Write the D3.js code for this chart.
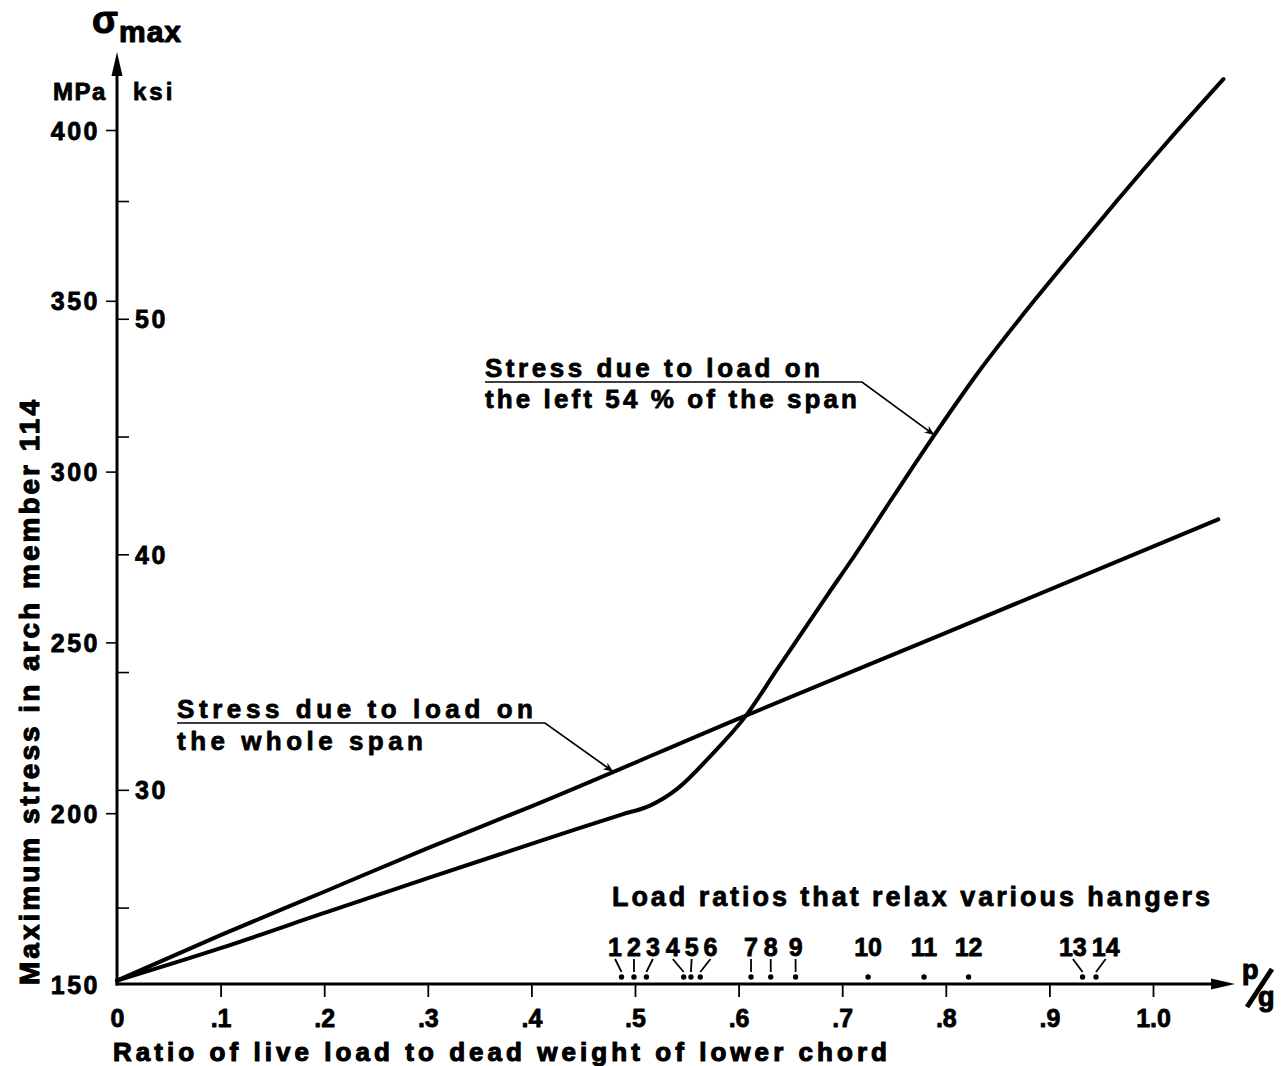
<!DOCTYPE html>
<html>
<head>
<meta charset="utf-8">
<script src="https://cdn.jsdelivr.net/npm/d3@7"></script>
<style>
  html, body { margin: 0; padding: 0; background: #fff; }
  svg { display: block; }
  text { fill: #000; stroke: #000; stroke-width: 0.8px; stroke-linejoin: round; }
  text.big { stroke-width: 1.1px; }
</style>
</head>
<body>
<svg id="chart" width="1287" height="1066"></svg>
<script>
// ---------------- DATA ----------------
const pTicks = [0, 0.1, 0.2, 0.3, 0.4, 0.5, 0.6, 0.7, 0.8, 0.9, 1.0];
const pTickLabels = ["0", ".1", ".2", ".3", ".4", ".5", ".6", ".7", ".8", ".9", "1.0"];
const mpaTicks = [150, 200, 250, 300, 350, 400];
const ksiTicks = [25, 30, 35, 40, 45, 50, 55];
const ksiLabelled = [30, 40, 50];

// Stress due to load on the whole span
const wholeP = [0, 0.1, 0.2, 0.3, 0.4, 0.6, 0.8, 1.063];
const wholeStress = [151, 164.3, 177, 189.8, 202, 227.7, 252.8, 286];

// Stress due to load on the left 54 % of the span
const leftP = [0, 0.1, 0.2, 0.3, 0.4, 0.447, 0.487, 0.515, 0.541, 0.573, 0.607, 0.637, 0.686, 0.711, 0.75, 0.793, 0.83, 0.872, 0.917, 0.965, 1.013, 1.068];
const leftStress = [151, 160.5, 170.8, 181, 191, 195.7, 199.6, 202.3, 207.2, 216.8, 228.5, 242, 264, 275, 293, 312.5, 328.5, 345, 361.7, 379.2, 396.2, 414.9];

// Load ratios that relax various hangers
const hangerIds = [1, 2, 3, 4, 5, 6, 7, 8, 9, 10, 11, 12, 13, 14];
const hangerRatios = [0.487, 0.499, 0.511, 0.547, 0.554, 0.563, 0.612, 0.631, 0.655, 0.725, 0.779, 0.822, 0.932, 0.945];

const MPA_PER_KSI = 6.894757;

// ---------------- LAYOUT ----------------
const svg = d3.select("#chart");
const TXT = "'Liberation Sans', Arial, sans-serif";
const NUM = "'Liberation Sans Narrow', 'Arial Narrow', 'Liberation Sans', sans-serif";

const x = d3.scaleLinear().domain([0, 1]).range([117, 1153]);
const y = d3.scaleLinear().domain([150, 400]).range([984, 130]);
const yKsi = d3.scaleLinear().domain([150 / MPA_PER_KSI, 400 / MPA_PER_KSI]).range([984, 130]);

// ---------------- AXES ----------------
// MPa axis (left)
const gL = svg.append("g").attr("transform", `translate(${x(0)},0)`)
  .call(d3.axisLeft(y).tickValues(mpaTicks).tickSize(11).tickPadding(6).tickFormat(d3.format("d")));
gL.select(".domain").remove();
gL.selectAll(".tick line").attr("stroke", "#000").attr("stroke-width", 1.6)
  .filter(d => d === 150).remove();
gL.selectAll(".tick text").attr("font-family", NUM).attr("font-weight", "bold")
  .attr("font-size", 25).attr("letter-spacing", 2.5).attr("fill", "#000").attr("dy", "0.36em");

// ksi axis (right of the spine)
const gR = svg.append("g").attr("transform", `translate(${x(0)},0)`)
  .call(d3.axisRight(yKsi).tickValues(ksiTicks).tickSize(12).tickPadding(6)
    .tickFormat(d => ksiLabelled.includes(d) ? d : ""));
gR.select(".domain").remove();
gR.selectAll(".tick line").attr("stroke", "#000").attr("stroke-width", 1.6);
gR.selectAll(".tick text").attr("font-family", NUM).attr("font-weight", "bold")
  .attr("font-size", 25).attr("letter-spacing", 2.5).attr("fill", "#000").attr("dy", "0.36em");

// p/g axis (bottom)
const gB = svg.append("g").attr("transform", `translate(0,${y(150)})`)
  .call(d3.axisBottom(x).tickValues(pTicks).tickSize(13).tickPadding(10)
    .tickFormat((d, i) => pTickLabels[i]));
gB.select(".domain").remove();
gB.selectAll(".tick line").attr("stroke", "#000").attr("stroke-width", 1.8)
  .filter(d => d === 0).remove();
gB.selectAll(".tick text").attr("font-family", NUM).attr("font-weight", "bold")
  .attr("font-size", 25).attr("fill", "#000").attr("dy", "0.8em");

// spines with arrowheads
const x0 = x(0), y0 = y(150);
svg.append("line").attr("x1", x0).attr("y1", y0 + 1.5).attr("x2", x0).attr("y2", 66)
  .attr("stroke", "#000").attr("stroke-width", 3);
svg.append("path").attr("d", `M${x0},52 L${x0 - 5.5},76 L${x0 + 5.5},76 Z`).attr("fill", "#000");
svg.append("line").attr("x1", x0 - 1.5).attr("y1", y0).attr("x2", 1218).attr("y2", y0)
  .attr("stroke", "#000").attr("stroke-width", 3);
svg.append("path").attr("d", `M1235,${y0} L1211,${y0 - 5.5} L1211,${y0 + 5.5} Z`).attr("fill", "#000");

// axis titles
svg.append("text").attr("class", "big").attr("x", 92).attr("y", 33)
  .attr("font-family", TXT).attr("font-weight", "bold").attr("font-size", 38).text("σ");
svg.append("text").attr("class", "big").attr("x", 119).attr("y", 42)
  .attr("font-family", TXT).attr("font-weight", "bold").attr("font-size", 30).attr("letter-spacing", 1).text("max");
svg.append("text").attr("x", 53).attr("y", 100)
  .attr("font-family", TXT).attr("font-weight", "bold").attr("font-size", 24).attr("letter-spacing", 1.5).text("MPa");
svg.append("text").attr("x", 133).attr("y", 100)
  .attr("font-family", TXT).attr("font-weight", "bold").attr("font-size", 24).attr("letter-spacing", 3).text("ksi");

svg.append("text").attr("class", "big").attr("transform", "translate(39,985) rotate(-90)")
  .attr("font-family", TXT).attr("font-weight", "bold").attr("font-size", 28)
  .attr("textLength", 585).attr("lengthAdjust", "spacing")
  .text("Maximum stress in arch member 114");

svg.append("text").attr("class", "big").attr("x", 113).attr("y", 1061)
  .attr("font-family", TXT).attr("font-weight", "bold").attr("font-size", 26)
  .attr("textLength", 774).attr("lengthAdjust", "spacing")
  .text("Ratio of live load to dead weight of lower chord");

// p/g
svg.append("text").attr("class", "big").attr("x", 1242).attr("y", 979)
  .attr("font-family", NUM).attr("font-weight", "bold").attr("font-size", 27).text("p");
svg.append("line").attr("x1", 1247).attr("y1", 1007).attr("x2", 1272).attr("y2", 969)
  .attr("stroke", "#000").attr("stroke-width", 5);
svg.append("text").attr("class", "big").attr("x", 1258).attr("y", 1006)
  .attr("font-family", NUM).attr("font-weight", "bold").attr("font-size", 27).text("g");

// ---------------- CURVES ----------------
const line = d3.line().x(d => x(d[0])).y(d => y(d[1])).curve(d3.curveMonotoneX);
const wholeData = wholeP.map((p, i) => [p, wholeStress[i]]);
const leftData = leftP.map((p, i) => [p, leftStress[i]]);

svg.append("path").datum(wholeData).attr("d", line)
  .attr("fill", "none").attr("stroke", "#000").attr("stroke-width", 4).attr("stroke-linecap", "round");
svg.append("path").datum(leftData).attr("d", line)
  .attr("fill", "none").attr("stroke", "#000").attr("stroke-width", 4).attr("stroke-linecap", "round");

// ---------------- ANNOTATIONS ----------------
function interp(ps, vs, p) {
  for (let i = 1; i < ps.length; i++) {
    if (p <= ps[i]) {
      const t = (p - ps[i - 1]) / (ps[i] - ps[i - 1]);
      return vs[i - 1] + t * (vs[i] - vs[i - 1]);
    }
  }
  return vs[vs.length - 1];
}

svg.append("defs").append("marker").attr("id", "arr")
  .attr("viewBox", "0 0 10 10").attr("refX", 10).attr("refY", 5)
  .attr("markerWidth", 10).attr("markerHeight", 10).attr("markerUnits", "userSpaceOnUse")
  .attr("orient", "auto")
  .append("path").attr("d", "M0,1 L10,5 L0,9 L3,5 Z").attr("fill", "#000");

function annotate(lines, tx, ty, lineGap, widths, underEndX, targetP, ps, vs) {
  const g = svg.append("g");
  lines.forEach((s, i) => {
    g.append("text").attr("x", tx).attr("y", ty + i * lineGap)
      .attr("font-family", TXT).attr("font-weight", "bold").attr("font-size", 26)
      .attr("textLength", widths[i]).attr("lengthAdjust", "spacing").text(s);
  });
  const uy = ty + 5;
  const px = x(targetP), py = y(interp(ps, vs, targetP));
  g.append("path").attr("d", `M${tx},${uy} L${underEndX},${uy} L${px},${py}`)
    .attr("fill", "none").attr("stroke", "#000").attr("stroke-width", 1.7)
    .attr("marker-end", "url(#arr)");
}

annotate(["Stress due to load on", "the left 54 % of the span"], 485, 377, 31, [335, 372],
  862, 0.789, leftP, leftStress);
annotate(["Stress due to load on", "the whole span"], 177, 718, 32, [356, 246],
  545, 0.479, wholeP, wholeStress);

// ---------------- HANGERS ----------------
svg.append("text").attr("x", 612).attr("y", 906)
  .attr("font-family", TXT).attr("font-weight", "bold").attr("font-size", 27)
  .attr("textLength", 598).attr("lengthAdjust", "spacing")
  .text("Load ratios that relax various hangers");

const hg = svg.append("g");
const labels = hangerIds.map((id, i) => {
  const t = hg.append("text").attr("y", 956).attr("text-anchor", "middle")
    .attr("font-family", NUM).attr("font-weight", "bold").attr("font-size", 25).text(id);
  return { id, dx: x(hangerRatios[i]), lx: x(hangerRatios[i]), w: t.node().getComputedTextLength(), t };
});
// spread overlapping labels apart
for (let it = 0; it < 200; it++) {
  for (let i = 0; i < labels.length - 1; i++) {
    const a = labels[i], b = labels[i + 1];
    const need = (a.w + b.w) / 2 + 5;
    const gap = b.lx - a.lx;
    if (gap < need) { const d = (need - gap) / 2; a.lx -= d; b.lx += d; }
  }
}
labels.forEach(l => {
  l.t.attr("x", l.lx);
  if (l.id < 10 || Math.abs(l.lx - l.dx) > 1) {
    hg.append("line").attr("x1", l.lx).attr("y1", 959).attr("x2", l.dx).attr("y2", 972)
      .attr("stroke", "#000").attr("stroke-width", 1.8);
  }
  hg.append("circle").attr("cx", l.dx).attr("cy", 977).attr("r", 2.7).attr("fill", "#000");
});
</script>
</body>
</html>
